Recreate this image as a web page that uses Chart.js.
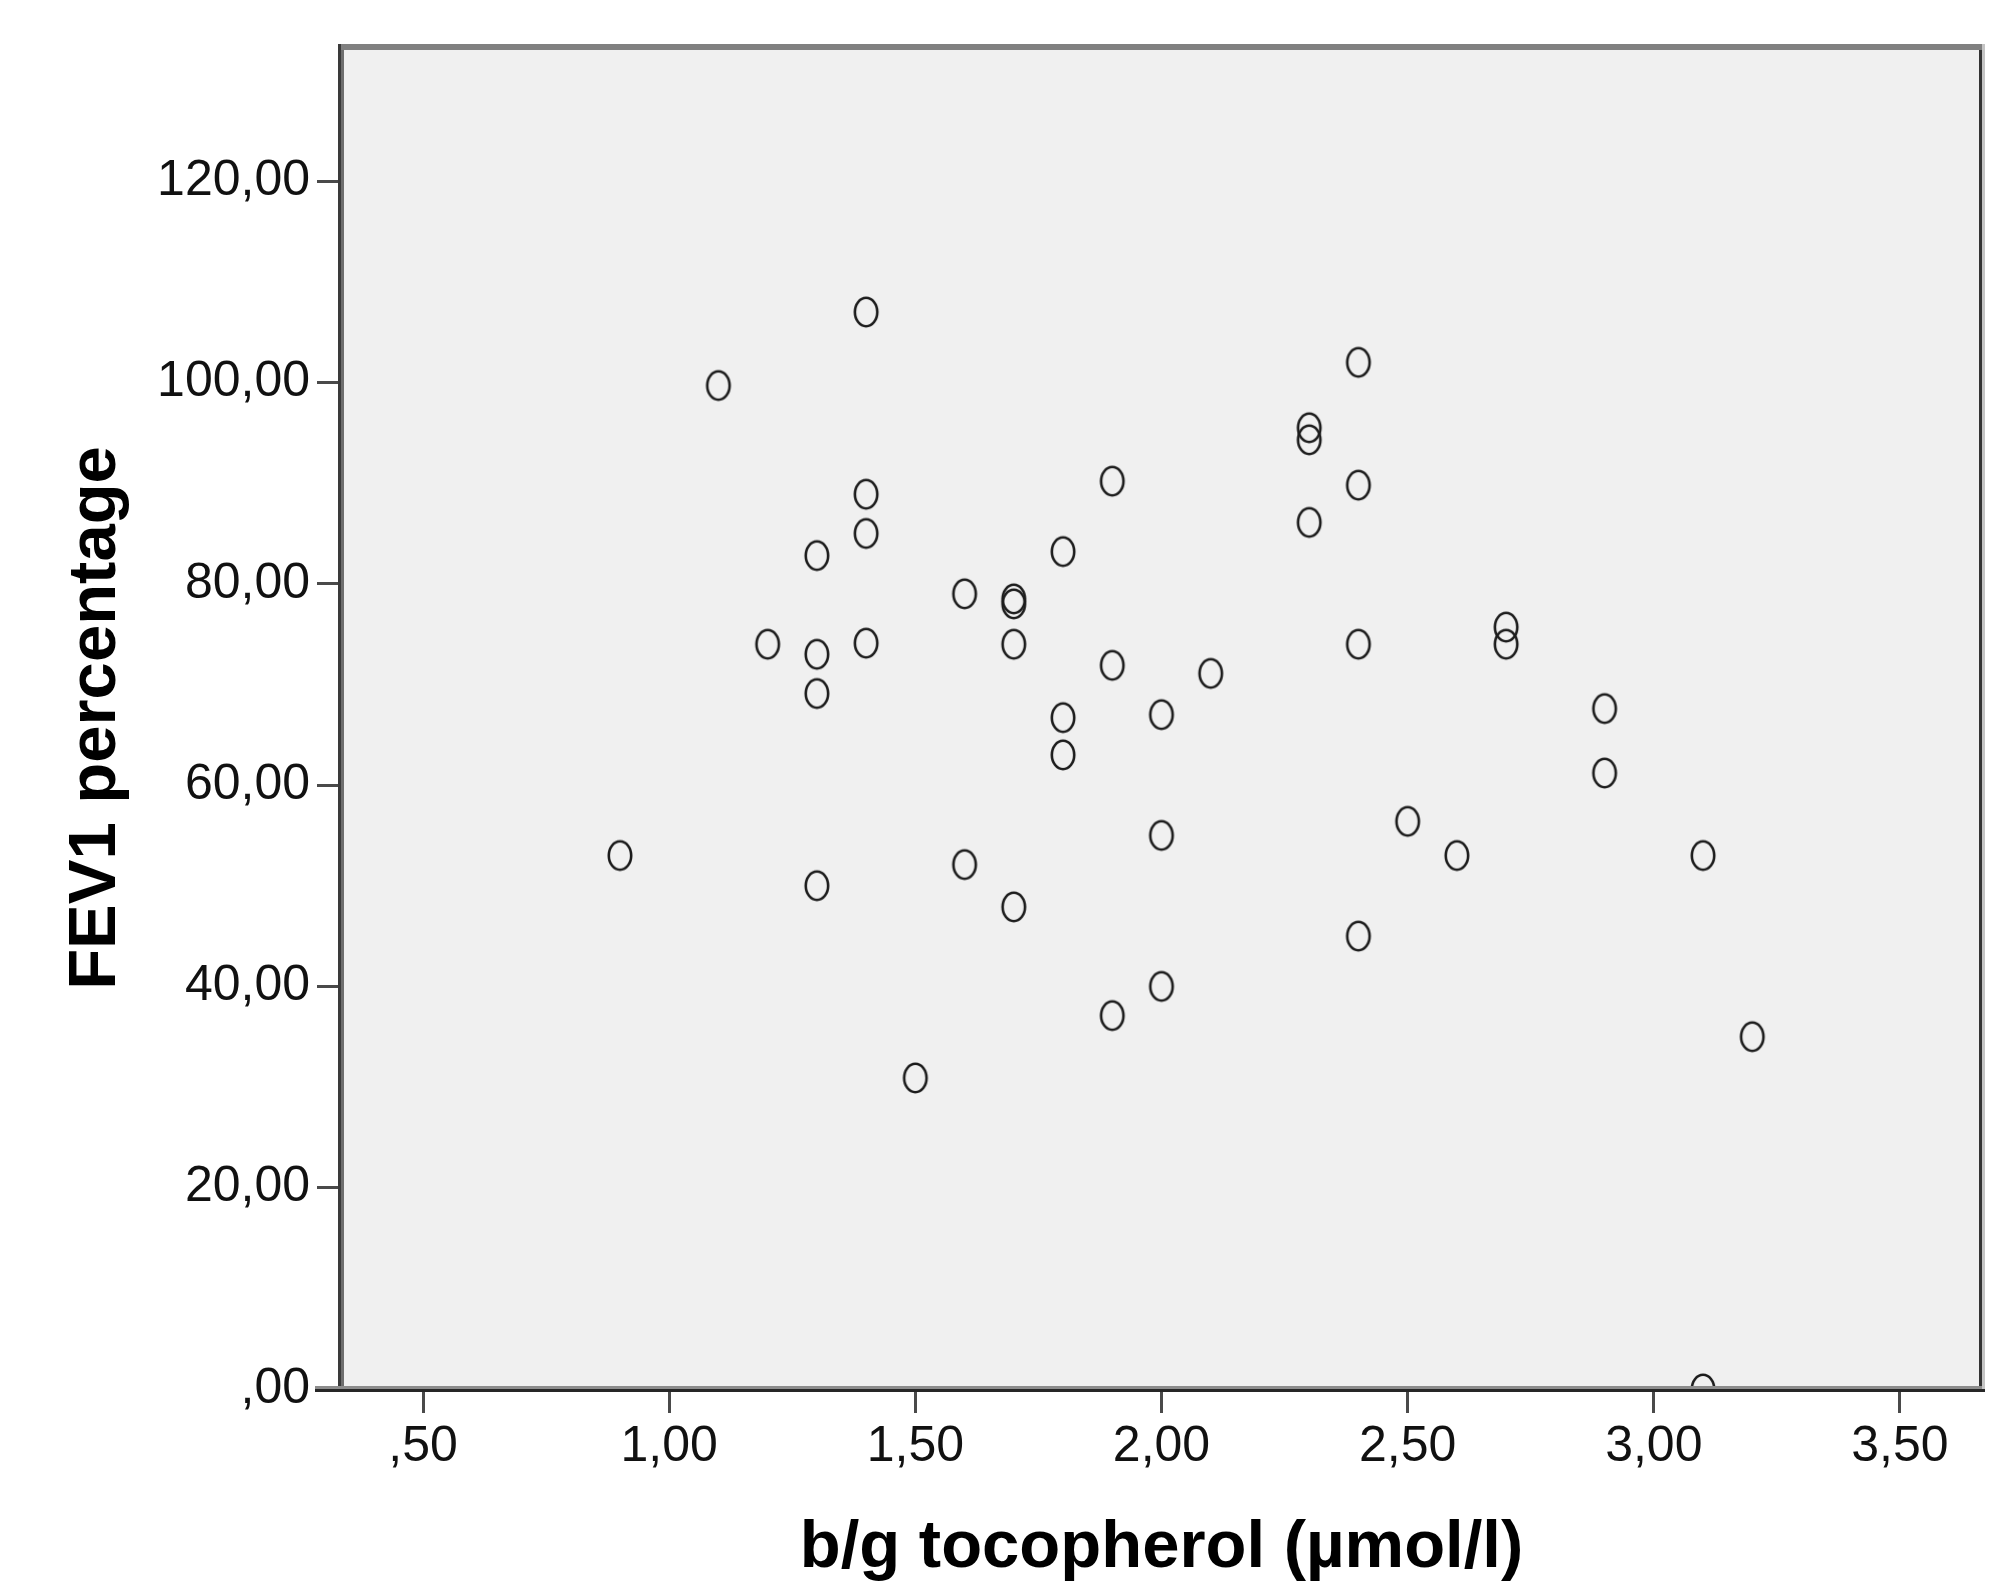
<!DOCTYPE html>
<html>
<head>
<meta charset="utf-8">
<style>
  html, body { margin: 0; padding: 0; background: #fff; }
  #wrap { width: 2016px; height: 1582px; }
</style>
<script src="https://cdn.jsdelivr.net/npm/chart.js@4.4.1/dist/chart.umd.min.js"></script>
</head>
<body>
<div id="wrap"><canvas id="chart" width="2016" height="1582"></canvas></div>
<script>
// b/g tocopherol (umol/l) vs FEV1 percentage
const tocopherol = [
  0.9, 1.1, 1.2, 1.3, 1.3, 1.3, 1.3, 1.4, 1.4, 1.4, 1.4,
  1.5, 1.6, 1.6, 1.7, 1.7, 1.7, 1.7, 1.8, 1.8, 1.8,
  1.9, 1.9, 1.9, 2.0, 2.0, 2.0, 2.1,
  2.3, 2.3, 2.3, 2.4, 2.4, 2.4, 2.4,
  2.5, 2.6, 2.7, 2.7, 2.9, 2.9, 3.1, 3.1, 3.2
];
const fev1 = [
  53.0, 99.7, 74.0, 82.8, 73.0, 69.1, 50.0, 107.0, 88.9, 85.0, 74.1,
  30.9, 79.0, 52.1, 78.5, 78.0, 74.0, 47.9, 83.2, 66.7, 63.0,
  90.2, 71.9, 37.1, 67.0, 55.0, 40.0, 71.1,
  95.5, 94.3, 86.1, 102.0, 89.8, 74.0, 45.0,
  56.4, 53.0, 75.7, 74.0, 67.6, 61.2, 53.0, 0.0, 35.0
];

const xTicks = [0.5, 1.0, 1.5, 2.0, 2.5, 3.0, 3.5];
const xTickLabels = [",50", "1,00", "1,50", "2,00", "2,50", "3,00", "3,50"];
const yTicks = [0, 20, 40, 60, 80, 100, 120];
const yTickLabels = [",00", "20,00", "40,00", "60,00", "80,00", "100,00", "120,00"];

// SPSS style open marker (slightly taller than wide in the picture)
const makeMarker = () => {
  const c = document.createElement("canvas");
  c.width = 30;
  c.height = 36;
  const g = c.getContext("2d");
  g.strokeStyle = "#1c1c1c";
  g.lineWidth = 2.6;
  g.beginPath();
  g.ellipse(15, 18, 11.2, 14.2, 0, 0, Math.PI * 2);
  g.stroke();
  return c;
};

const plotBackground = {
  id: "plotBackground",
  beforeDraw(chart) {
    const { ctx, chartArea: { left, top, width, height } } = chart;
    ctx.save();
    ctx.fillStyle = "#F0F0F0";
    ctx.fillRect(left, top, width, height);
    ctx.restore();
  },
};

const plotFrame = {
  id: "plotFrame",
  afterDatasetsDraw(chart) {
    const { ctx, chartArea: { left, top, right, bottom } } = chart;
    ctx.save();
    // top
    ctx.fillStyle = "#808080";
    ctx.fillRect(left - 3, top - 3, right - left + 6, 6);
    // left
    ctx.fillStyle = "#3a3a3a";
    ctx.fillRect(left - 3, top - 3, 3, bottom - top + 6);
    ctx.fillStyle = "#6e6e6e";
    ctx.fillRect(left, top + 3, 3, bottom - top - 6);
    // right
    ctx.fillStyle = "#333333";
    ctx.fillRect(right - 3, top + 3, 3, bottom - top);
    ctx.fillStyle = "#c4c4c4";
    ctx.fillRect(right, top - 3, 3, bottom - top + 6);
    // bottom
    ctx.fillStyle = "#8c8c8c";
    ctx.fillRect(left - 26, bottom - 3, right - left + 26, 3);
    ctx.fillStyle = "#262626";
    ctx.fillRect(left - 26, bottom, right - left + 29, 3);
    ctx.restore();
  },
};

const tickFont = { family: "'Liberation Sans', Arial, sans-serif", size: 50 };
const titleFont = { family: "'Liberation Sans', Arial, sans-serif", size: 67, weight: "bold", lineHeight: 1 };

new Chart(document.getElementById("chart").getContext("2d"), {
  type: "scatter",
  data: {
    datasets: [
      {
        data: tocopherol.map((x, i) => ({ x: x, y: fev1[i] })),
        pointStyle: makeMarker(),
        pointRadius: 14,
        pointHoverRadius: 14,
      },
    ],
  },
  options: {
    responsive: false,
    animation: false,
    devicePixelRatio: 1,
    layout: { padding: { left: 0, right: 34, top: 47, bottom: 0 } },
    plugins: {
      legend: { display: false },
      tooltip: { enabled: false },
    },
    scales: {
      x: {
        type: "linear",
        min: 1 / 3,
        max: 11 / 3,
        afterBuildTicks: (scale) => {
          scale.ticks = xTicks.map((v) => ({ value: v }));
        },
        afterFit: (scale) => {
          scale.height = 193;
        },
        border: { display: false },
        grid: {
          drawOnChartArea: false,
          drawTicks: true,
          tickLength: 24,
          lineWidth: 3,
          color: "#4a4a4a",
        },
        ticks: {
          color: "#111",
          font: tickFont,
          padding: 4,
          maxRotation: 0,
          autoSkip: false,
          callback: (v, i) => xTickLabels[i],
        },
        title: {
          display: true,
          text: "b/g tocopherol (µmol/l)",
          color: "#000",
          font: titleFont,
          padding: 0,
        },
      },
      y: {
        type: "linear",
        min: 0,
        max: 400 / 3,
        afterBuildTicks: (scale) => {
          scale.ticks = yTicks.map((v) => ({ value: v }));
        },
        afterFit: (scale) => {
          scale.width = 341;
        },
        border: { display: false },
        grid: {
          drawOnChartArea: false,
          drawTicks: true,
          tickLength: 24,
          lineWidth: 3,
          color: "#4a4a4a",
        },
        ticks: {
          color: "#111",
          font: tickFont,
          padding: 7,
          autoSkip: false,
          callback: (v, i) => yTickLabels[i],
        },
        title: {
          display: true,
          text: "FEV1 percentage",
          color: "#000",
          font: titleFont,
          padding: { top: 63, bottom: 0 },
        },
      },
    },
  },
  plugins: [plotBackground, plotFrame],
});
</script>
</body>
</html>
